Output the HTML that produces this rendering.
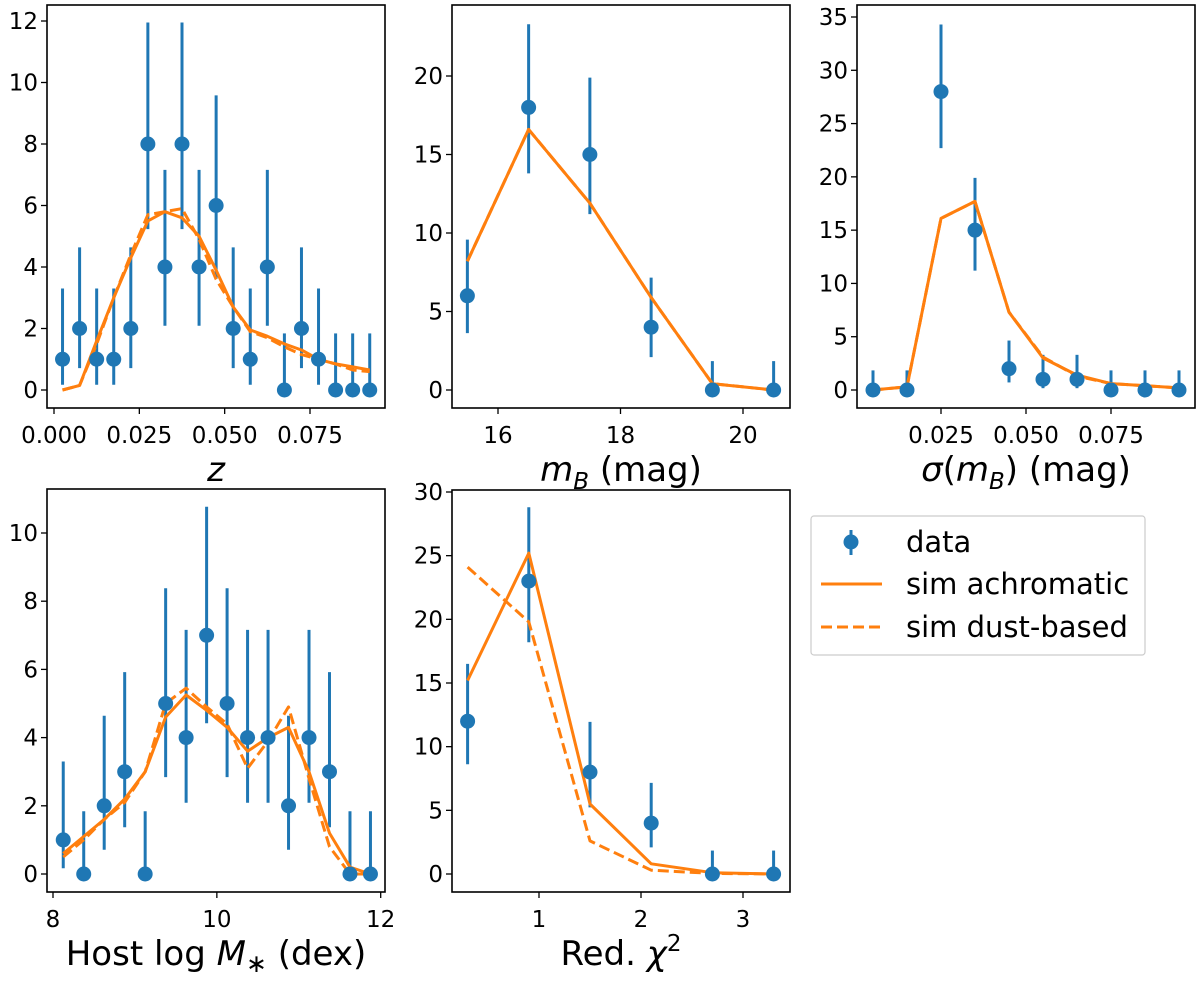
<!DOCTYPE html>
<html><head><meta charset="utf-8"><style>
body{margin:0;background:#fff;}
svg{display:block;font-family:"DejaVu Sans","Liberation Sans",sans-serif;}
</style></head><body>
<svg id="fig" width="1200" height="983" viewBox="0 0 1200 983"></svg>
<script>
// ---- Panel data ----
const zX = [0.0025,0.0075,0.0125,0.0175,0.0225,0.0275,0.0325,0.0375,0.0425,0.0475,0.0525,0.0575,0.0625,0.0675,0.0725,0.0775,0.0825,0.0875,0.0925];
const zData = [1,2,1,1,2,8,4,8,4,6,2,1,4,0,2,1,0,0,0];
const zAch = [0,0.15,1.6,3.0,4.3,5.5,5.8,5.6,5.0,3.9,2.7,1.95,1.75,1.5,1.3,1.0,0.85,0.75,0.65];
const zDust = [0,0.15,1.5,3.0,4.4,5.7,5.8,5.9,4.9,3.6,2.7,1.9,1.7,1.4,1.15,1.0,0.85,0.65,0.6];
const zYTicks = [0,2,4,6,8,10,12];
const zXTicks = [0,0.025,0.05,0.075];
const zXTickLabels = ["0.000","0.025","0.050","0.075"];

const mX = [15.5,16.5,17.5,18.5,19.5,20.5];
const mData = [6,18,15,4,0,0];
const mAch = [8.2,16.6,11.9,5.9,0.4,0];
const mDust = [8.2,16.6,11.9,5.9,0.4,0];
const mYTicks = [0,5,10,15,20];
const mXTicks = [16,18,20];

const sX = [0.005,0.015,0.025,0.035,0.045,0.055,0.065,0.075,0.085,0.095];
const sData = [0,0,28,15,2,1,1,0,0,0];
const sAch = [0,0.3,16.1,17.7,7.3,3.0,1.4,0.6,0.4,0.2];
const sDust = [0,0.3,16.1,17.7,7.3,3.1,1.3,0.6,0.4,0.2];
const sYTicks = [0,5,10,15,20,25,30,35];
const sXTicks = [0.025,0.05,0.075];
const sXTickLabels = ["0.025","0.050","0.075"];

const hX = [8.125,8.375,8.625,8.875,9.125,9.375,9.625,9.875,10.125,10.375,10.625,10.875,11.125,11.375,11.625,11.875];
const hData = [1,0,2,3,0,5,4,7,5,4,4,2,4,3,0,0];
const hAch = [0.6,1.1,1.6,2.2,3.0,4.6,5.25,4.8,4.3,3.6,4.0,4.3,3.0,1.2,0.2,0];
const hDust = [0.5,1.0,1.6,2.1,3.0,5.0,5.45,4.9,4.4,3.1,3.9,4.9,2.8,0.8,0,0];
const hYTicks = [0,2,4,6,8,10];
const hXTicks = [8,10,12];

const cX = [0.3,0.9,1.5,2.1,2.7,3.3];
const cData = [12,23,8,4,0,0];
const cAch = [15.2,25.2,5.5,0.8,0.1,0];
const cDust = [24.1,19.8,2.6,0.3,0.05,0];
const cYTicks = [0,5,10,15,20,25,30];
const cXTicks = [1,2,3];

// Poisson-style confidence interval table [lower, upper] by count
const errTable = {0:[0,1.84],1:[0.17,3.3],2:[0.71,4.64],3:[1.37,5.92],4:[2.09,7.16],5:[2.84,8.38],6:[3.62,9.58],7:[4.42,10.77],8:[5.23,11.95],12:[8.62,16.5],15:[11.2,19.9],18:[13.8,23.3],23:[18.2,28.8],28:[22.7,34.3]};

const NS = "http://www.w3.org/2000/svg";
const svg = document.getElementById('fig');
const BLUE = "#1f77b4", ORANGE = "#ff7f0e";
function mk(tag, attrs, parent){
  const e = document.createElementNS(NS, tag);
  for (const k in attrs) e.setAttribute(k, attrs[k]);
  (parent||svg).appendChild(e);
  return e;
}
function panel(o){
  const g = mk('g', {});
  
  
  const sx = v => o.px0 + (v - o.vx0) * (o.px1 - o.px0) / (o.vx1 - o.vx0);
  const sy = v => o.py0 + (v - o.vy0) * (o.py1 - o.py0) / (o.vy1 - o.vy0);
  o.x.forEach((xv, i) => {
    const e = errTable[o.d[i]];
    const l = mk('line', {x1:sx(xv), x2:sx(xv), y1:sy(e[0]), y2:sy(e[1]), stroke:BLUE, 'stroke-width':3}, g);
    
    
  });
  const pts = arr => o.x.map((xv,i)=>sx(xv).toFixed(1)+','+sy(arr[i]).toFixed(1)).join(' ');
  if (o.dust){
    const p = mk('polyline', {points:pts(o.dust), fill:'none', stroke:ORANGE, 'stroke-width':3, 'stroke-dasharray':'11,5', 'stroke-linejoin':'round'}, g);
    
    
  }
  const pa = mk('polyline', {points:pts(o.ach), fill:'none', stroke:ORANGE, 'stroke-width':3, 'stroke-linejoin':'round'}, g);
  
  
  o.x.forEach((xv, i) => {
    const c = mk('circle', {cx:sx(xv), cy:sy(o.d[i]), r:7.5, fill:BLUE}, g);
    
    
  });
  const f = mk('rect', {x:o.bx0, y:o.by0, width:o.bx1-o.bx0, height:o.by1-o.by0, fill:'none', stroke:'#000', 'stroke-width':1.6}, g);
  
  
  o.yt.forEach(t => {
    const y = sy(t);
    mk('line', {x1:o.bx0-6, x2:o.bx0, y1:y, y2:y, stroke:'#000', 'stroke-width':1.3}, g);
    const tx = mk('text', {x:o.bx0-9, y:y+8, 'text-anchor':'end', 'font-size':23}, g);
    tx.textContent = String(t);
    
    
  });
  o.xt.forEach((t, i) => {
    const x = sx(t);
    mk('line', {x1:x, x2:x, y1:o.by1, y2:o.by1+6, stroke:'#000', 'stroke-width':1.3}, g);
    const tx = mk('text', {x:x, y:o.by1+35, 'text-anchor':'middle', 'font-size':23}, g);
    tx.textContent = o.xl ? o.xl[i] : String(t);
    
    
  });
  const lab = mk('text', {x:(o.bx0+o.bx1)/2, y:o.by1+73, 'text-anchor':'middle', 'font-size':34}, g);
  lab.innerHTML = o.label;
  
  
}

panel({name:'redshift-panel', x:zX, d:zData, ach:zAch, dust:zDust, yt:zYTicks, xt:zXTicks, xl:zXTickLabels,
  px0:54, vx0:0, px1:310, vx1:0.075, py0:390, vy0:0, py1:21, vy1:12,
  bx0:47, bx1:385, by0:5, by1:408, label:'<tspan font-style="italic">z</tspan>'});
panel({name:'magnitude-panel', x:mX, d:mData, ach:mAch, dust:mDust, yt:mYTicks, xt:mXTicks,
  px0:498, vx0:16, px1:743, vx1:20, py0:390, vy0:0, py1:76, vy1:20,
  bx0:452, bx1:790, by0:5, by1:408, label:'<tspan font-style="italic">m</tspan><tspan font-style="italic" font-size="23" dy="8">B</tspan><tspan dy="-8"> (mag)</tspan>'});
panel({name:'mag-error-panel', x:sX, d:sData, ach:sAch, dust:sDust, yt:sYTicks, xt:sXTicks, xl:sXTickLabels,
  px0:941, vx0:0.025, px1:1111, vx1:0.075, py0:390, vy0:0, py1:17, vy1:35,
  bx0:857, bx1:1195, by0:5, by1:408, label:'<tspan font-style="italic">σ</tspan>(<tspan font-style="italic">m</tspan><tspan font-style="italic" font-size="23" dy="8">B</tspan><tspan dy="-8">) (mag)</tspan>'});
panel({name:'host-mass-panel', x:hX, d:hData, ach:hAch, dust:hDust, yt:hYTicks, xt:hXTicks,
  px0:53, vx0:8, px1:380.7, vx1:12, py0:874, vy0:0, py1:533, vy1:10,
  bx0:47, bx1:385, by0:489, by1:892, label:'Host log <tspan font-style="italic">M</tspan><tspan font-size="25" dy="7">∗</tspan><tspan dy="-7"> (dex)</tspan>'});
panel({name:'chi2-panel', x:cX, d:cData, ach:cAch, dust:cDust, yt:cYTicks, xt:cXTicks,
  px0:539, vx0:1, px1:743, vx1:3, py0:874, vy0:0, py1:492, vy1:30,
  bx0:452, bx1:790, by0:490, by1:892, label:'Red. <tspan font-style="italic">χ</tspan><tspan font-size="23" dy="-14">2</tspan>'});
</script>
<svg style="position:absolute;left:0;top:0" width="1200" height="983">
  <g font-family="DejaVu Sans, Liberation Sans, sans-serif" font-size="29">
    <rect x="811" y="516" width="334" height="139" rx="3" fill="#fff" stroke="#ccc" stroke-width="1.2"/>
    <g>
      <line x1="851" y1="530" x2="851" y2="555" stroke="#1f77b4" stroke-width="3"/>
      <circle cx="851" cy="542" r="7.5" fill="#1f77b4"/>
      <text x="906" y="552">data</text>
    </g>
    <g>
      <line x1="821" y1="584" x2="882" y2="584" stroke="#ff7f0e" stroke-width="3"/>
      <text x="906" y="594">sim achromatic</text>
    </g>
    <g>
      <line x1="821" y1="627" x2="882" y2="627" stroke="#ff7f0e" stroke-width="3" stroke-dasharray="11,5"/>
      <text x="906" y="637">sim dust-based</text>
    </g>
  </g>
</svg>
</body></html>
